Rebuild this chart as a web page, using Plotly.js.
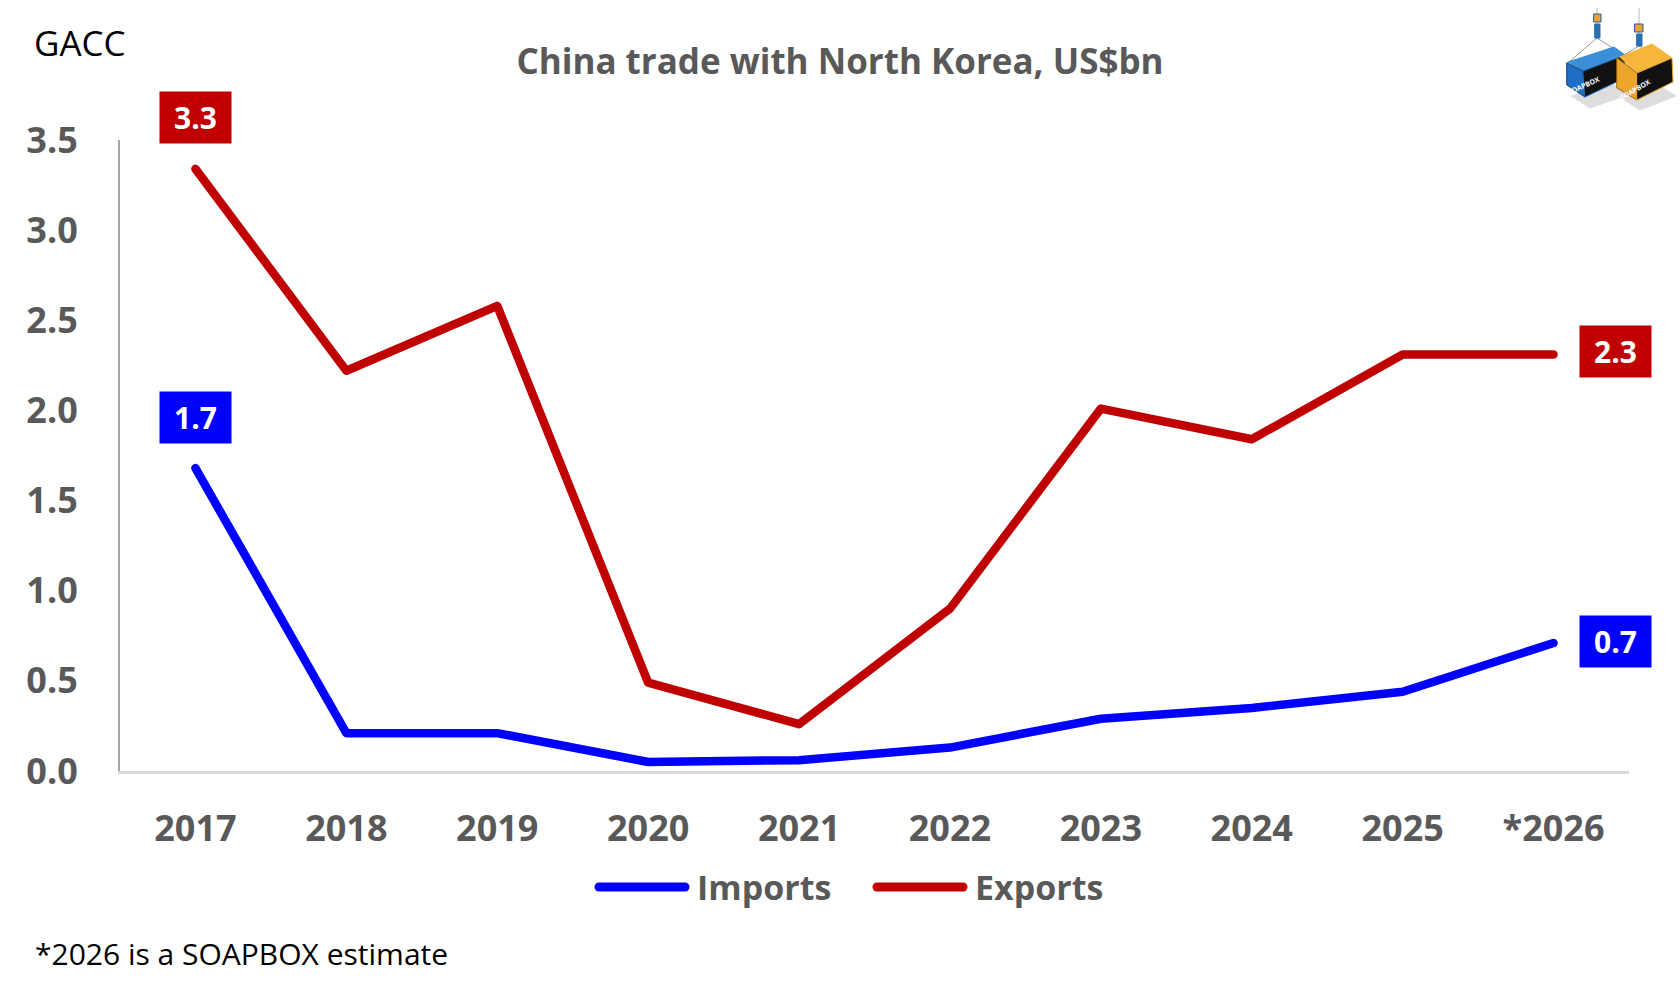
<!DOCTYPE html>
<html>
<head>
<meta charset="utf-8">
<script src="https://cdn.plot.ly/plotly-3.0.1.min.js"></script>
<style>
  html, body { margin: 0; padding: 0; background: #fff; }
  #chart { width: 1680px; height: 1000px; }
  .js-line { stroke-linecap: round; stroke-linejoin: round; }
  .shapelayer path { stroke-linecap: round; }
</style>
</head>
<body>
<div id="chart"></div>
<script>
// ---- data ----
const categories = ['2017', '2018', '2019', '2020', '2021', '2022', '2023', '2024', '2025', '*2026'];
const imports = [1.68, 0.21, 0.21, 0.05, 0.06, 0.13, 0.29, 0.35, 0.44, 0.71];
const exports = [3.34, 2.22, 2.58, 0.49, 0.26, 0.90, 2.01, 1.84, 2.31, 2.31];
const yTicks = [0, 0.5, 1, 1.5, 2, 2.5, 3, 3.5];
const seriesNames = ['Imports', 'Exports'];

// ---- layout constants ----
const W = 1680, H = 1000;
const M = { l: 120, r: 51, t: 140, b: 229 };
const PW = W - M.l - M.r, PH = H - M.t - M.b;
const px = v => (v - M.l) / PW;          // pixel -> paper x
const py = v => (H - M.b - v) / PH;      // pixel -> paper y

const BLUE = '#0000FF', RED = '#C00000', GREY = '#595959';
const FONT = '"Open Sans", "Noto Sans", sans-serif';

const traces = [
  { x: categories, y: imports, name: seriesNames[0], type: 'scatter', mode: 'lines',
    line: { color: BLUE, width: 8.5 }, cliponaxis: false },
  { x: categories, y: exports, name: seriesNames[1], type: 'scatter', mode: 'lines',
    line: { color: RED, width: 8.5 }, cliponaxis: false }
];

function valueBox(idx, val, color, xshift, yshift) {
  return { x: idx, y: val, xref: 'x', yref: 'y', text: '<b>' + val.toFixed(1) + '</b>',
    showarrow: false, xshift: xshift, yshift: yshift, bgcolor: color,
    width: 71, height: 51, borderpad: 0, align: 'center', valign: 'middle',
    font: { family: FONT, size: 30, color: '#FFFFFF', weight: 700 } };
}
const last = categories.length - 1;

const annotations = [
  valueBox(0, exports[0], RED, 0, 51),
  valueBox(0, imports[0], BLUE, 0, 51),
  valueBox(last, exports[last], RED, 62, 3),
  valueBox(last, imports[last], BLUE, 62, 2),
  { xref: 'paper', yref: 'paper', x: px(32), y: py(43), xanchor: 'left', yanchor: 'middle',
    text: 'GACC', showarrow: false, font: { family: FONT, size: 35, color: '#000000' } },
  { xref: 'paper', yref: 'paper', x: px(33), y: py(953), xanchor: 'left', yanchor: 'middle',
    text: '*2026 is a SOAPBOX estimate', showarrow: false,
    font: { family: FONT, size: 30, color: '#000000' } },
  { xref: 'paper', yref: 'paper', x: px(695), y: py(887), xanchor: 'left', yanchor: 'middle',
    text: '<b>' + seriesNames[0] + '</b>', showarrow: false,
    font: { family: FONT, size: 34, color: GREY, weight: 700 } },
  { xref: 'paper', yref: 'paper', x: px(973), y: py(887), xanchor: 'left', yanchor: 'middle',
    text: '<b>' + seriesNames[1] + '</b>', showarrow: false,
    font: { family: FONT, size: 34, color: GREY, weight: 700 } },
  // logo text
  { xref: 'paper', yref: 'paper', x: px(1604), y: py(72), text: '<b>SOAPBOX</b>', showarrow: false,
    textangle: -24, font: { family: FONT, size: 7, color: '#FFFFFF' } },
  { xref: 'paper', yref: 'paper', x: px(1655), y: py(74), text: '<b>SOAPBOX</b>', showarrow: false,
    textangle: -30, font: { family: FONT, size: 7, color: '#FFFFFF' } }
];

function poly(pts, fill, line) {
  const d = 'M' + pts.map(p => px(p[0]) + ',' + py(p[1])).join('L') + 'Z';
  return { type: 'path', xref: 'paper', yref: 'paper', path: d, fillcolor: fill,
    line: { color: line || fill, width: 1 }, layer: 'above' };
}
function seg(x0, y0, x1, y1, color, width) {
  return { type: 'line', xref: 'paper', yref: 'paper', x0: px(x0), y0: py(y0), x1: px(x1), y1: py(y1),
    line: { color: color, width: width }, layer: 'above' };
}

const shapes = [
  // custom legend lines
  seg(599, 887, 685, 887, BLUE, 9),
  seg(877, 887, 963, 887, RED, 9),
  // logo: shadows
  poly([[1572, 96], [1612, 84], [1630, 94], [1590, 108]], '#DDDDDD'),
  poly([[1622, 98], [1660, 86], [1676, 96], [1640, 110]], '#DDDDDD'),
  // logo: ropes
  seg(1597, 8, 1597, 30, '#BBBBBB', 1),
  seg(1597, 38, 1569, 62, '#999999', 1),
  seg(1597, 38, 1624, 55, '#999999', 1),
  seg(1639, 8, 1639, 36, '#BBBBBB', 1),
  seg(1639, 46, 1619, 58, '#999999', 1),
  seg(1639, 46, 1670, 60, '#999999', 1),
  // hooks
  poly([[1594, 14], [1601, 14], [1601, 22], [1594, 22]], '#E8A33A', '#2a5c8a'),
  poly([[1595, 24], [1600, 24], [1600, 38], [1595, 38]], '#2a6fb0'),
  poly([[1635, 24], [1643, 24], [1643, 32], [1635, 32]], '#E8A33A', '#2a5c8a'),
  poly([[1637, 34], [1642, 34], [1642, 46], [1637, 46]], '#2a6fb0'),
  // blue container
  poly([[1568, 62], [1614, 47], [1625, 55], [1583, 71]], '#3A8FD8'),
  poly([[1567, 63], [1583, 71], [1585, 97], [1567, 85]], '#1E6FC4', '#0f3f75'),
  poly([[1583, 71], [1625, 55], [1625, 78], [1585, 97]], '#111111', '#1E6FC4'),
  // orange container
  poly([[1620, 57], [1652, 44], [1672, 58], [1637, 73]], '#F6B63C'),
  poly([[1617, 58], [1637, 73], [1637, 100], [1617, 88]], '#EDA52A', '#a06b10'),
  poly([[1637, 73], [1672, 58], [1673, 82], [1637, 100]], '#111111', '#EDA52A')
];

const layout = {
  width: W, height: H,
  margin: M,
  paper_bgcolor: '#FFFFFF', plot_bgcolor: '#FFFFFF',
  showlegend: false,
  title: { text: '<b>China trade with North Korea, US$bn</b>', x: 0.5, xanchor: 'center',
    xref: 'container', yref: 'container', y: 1 - 62 / H, yanchor: 'middle',
    font: { family: FONT, size: 35, color: GREY, weight: 700 } },
  xaxis: {
    type: 'category', range: [-0.5, categories.length - 0.5],
    showgrid: false, zeroline: false, showline: true, linecolor: '#D9D9D9', linewidth: 3,
    ticks: '', ticklabelstandoff: 24,
    tickfont: { family: FONT, size: 36, color: GREY, weight: 700 }
  },
  yaxis: {
    range: [0, 3.5], tickvals: yTicks, ticktext: yTicks.map(v => v.toFixed(1)),
    showgrid: false, zeroline: false, showline: true, linecolor: '#A6A6A6', linewidth: 2,
    ticks: '', ticklabelstandoff: 33,
    tickfont: { family: FONT, size: 36, color: GREY, weight: 700 }
  },
  annotations: annotations,
  shapes: shapes,
  hovermode: false
};

Plotly.newPlot('chart', traces, layout, { displayModeBar: false, staticPlot: true });
</script>
</body>
</html>
